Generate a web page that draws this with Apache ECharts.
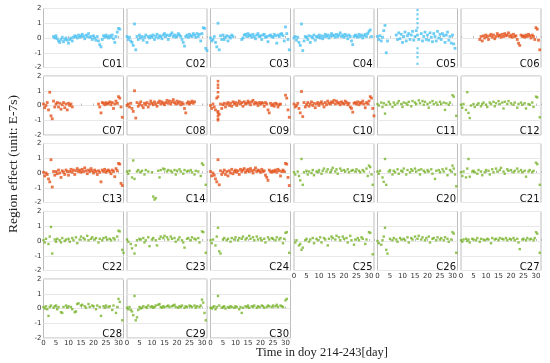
<!DOCTYPE html>
<html><head><meta charset="utf-8">
<script src="https://cdn.jsdelivr.net/npm/echarts@6/dist/echarts.min.js"></script>
<style>html,body{margin:0;padding:0;background:#fff}#c{width:550px;height:363px}</style>
</head><body><div id="c"></div>
<script>
const _ = null;
const days = [0,0.5,1,1.5,2,2.5,3,3.5,4,4.5,5,5.5,6,6.5,7,7.5,8,8.5,9,9.5,10,10.5,11,11.5,12,12.5,13,13.5,14,14.5,15,15.5,16,16.5,17,17.5,18,18.5,19,19.5,20,20.5,21,21.5,22,22.5,23,23.5,24,24.5,25,25.5,26,26.5,27,27.5,28,28.5,29,29.5,30,30.5,31,31.5,32];
const xTicks = [0,5,10,15,20,25,30];
const yTicks = [-2,-1,0,1,2];
const panelNames = ['C01','C02','C03','C04','C05','C06','C07','C08','C09','C10','C11','C12','C13','C14','C16','C19','C20','C21','C22','C23','C24','C25','C26','C27','C28','C29','C30'];
const panelGroup = ['b','b','b','b','b','o','o','o','o','o','g','g','o','g','o','g','g','g','g','g','g','g','g','g','g','g','g'];

const C01 = [_,_,_,_,_,_,_,_,.1,0,
.15,-.05,-.2,-.3,-.1,.05,-.25,-.1,0,-.15,
-.35,-.1,0,-.2,.05,.15,.1,0,.2,.05,
.15,.25,.1,-.05,.2,.1,.3,.05,.1,-.1,
.15,0,-.15,.1,-.2,-.45,-.6,-.1,.15,.05,
.2,.1,0,.15,.05,.2,-.05,-.3,.1,.4,
.65,.6,_,_,_];
const C02 = [.1,-.1,.05,-.2,-.3,-.5,.95,-.8,.1,-.1,
.2,0,.1,-.15,.05,.2,-.3,.1,0,.15,
.05,.2,-.1,.1,.25,0,.15,.1,-.05,.2,
.3,.1,.2,-.1,.15,.25,.35,.1,.2,.05,
.15,.3,.2,.1,-.1,-.3,-.55,.1,.2,.05,
.25,.15,.1,.3,.2,.05,.3,.1,.25,-.2,
.3,.7,.65,-.7,-.85];
const C03 = [0,-.2,-.1,.1,-.3,-.6,1.0,-.8,.15,-.1,
.2,-.1,.05,.15,-.2,.1,0,.2,.1,_,
_,_,_,_,_,-.1,0,.2,.25,.1,
.3,.15,.2,.05,.25,.1,-.05,.2,.3,.1,
.15,-.1,.2,.25,.05,.1,-.25,.15,.2,.1,
.05,.25,.15,-.35,.2,.1,.25,.3,.15,-.2,
.75,.3,-.1,-.8,_];
const C04 = [0,.1,-.15,.05,-.3,-.5,.95,-.85,-.2,.1,
.05,-.1,.15,-.3,.1,0,.2,-.15,.1,.05,
.2,0,.15,-.05,.1,.25,.1,.2,0,.15,
.3,.15,.2,.05,.25,.1,.2,.35,.1,.2,
.05,.25,.15,-.05,.2,.1,-.2,-.45,.1,.2,
.15,.05,.25,.1,.2,0,.15,.25,.1,.3,
.45,.55,.1,_,_];
const C05 = [.1,-.1,.15,-.2,.05,.5,.85,-1.0,-.2,_,
_,_,_,_,_,.2,-.1,.35,-.05,.25,
-.3,.1,.4,-.2,.15,.3,-.1,.2,.45,-.15,
.1,.5,.2,-.1,_,.3,-.2,.1,.4,-.1,
.2,-.15,.35,.05,-.25,.3,.1,-.2,.45,0,
.25,-.1,.3,.15,-.3,.2,.4,-.15,.1,-.35,
.2,-.4,-.7,_,_];
const C06 = [_,_,_,_,_,_,_,_,_,_,
_,_,_,_,_,-.1,.1,-.2,.15,0,
.2,.1,-.1,.15,.25,.05,.2,-.05,.1,.3,
.15,.2,.05,.25,.1,.3,.15,.2,.35,.1,
.2,.05,.25,.1,.15,-.1,-.35,-.5,.2,.1,
.15,.05,.2,.1,.25,.15,0,.2,.1,-.1,
.7,.6,-.15,-.8,_];
const C07 = [.1,-.15,0,.2,-.3,.9,-.7,-.9,.3,-.1,
.1,.2,-.1,.15,-.25,.05,.2,-.15,.1,-.3,
.15,0,.1,-.1,_,_,_,_,_,_,
_,_,_,_,_,_,_,_,_,_,
_,_,_,_,.1,-.1,-.5,.2,.15,.05,
.2,.1,.15,.25,.05,.2,-.2,.1,.3,.15,
.6,.5,-.1,-.8,_];
const C08 = [0,.1,-.1,.15,-.2,-.4,1.0,-.85,.2,-.05,
.1,.25,0,-.15,.15,.05,.2,-.1,.1,.3,
.15,.05,.25,.1,-.05,.2,.3,.1,.25,.15,
.05,.2,.35,.15,.3,.1,.25,.4,.2,.1,
.3,.15,.25,.05,.2,.1,-.2,-.5,.15,.25,
.1,.2,.3,.15,.25,_,_,_,_,_,
_,_,_,_,_];
const C09 = [0,-.2,.1,-.1,-.3,.5,-.4,-.6,.1,-.2,
.05,.15,-.1,.1,.2,0,.15,-.05,.25,.1,
.2,0,.15,.3,.1,.2,-.05,.25,.1,.15,
.3,.2,.05,.25,.35,.1,.2,.15,0,.2,
.1,.2,.15,-.05,.2,.1,-.3,-.5,.15,0,
.1,-.05,.15,.1,-.1,.05,.1,_,_,_,
.7,.5,-.3,-.8,_];
const C10 = [.1,-.1,0,.15,-.2,-.5,.95,-.75,.2,-.1,
.05,.2,-.05,.1,.25,0,.15,-.15,.1,.2,
0,.15,.25,.1,-.1,.2,.05,.3,.15,.1,
.25,.2,.35,.1,.3,.15,.2,.05,.25,.15,
.1,.3,.2,.05,.15,-.1,-.2,-.45,.15,.2,
.1,.25,.05,.2,.15,.3,.1,-.15,.2,.1,
.3,.6,.5,-.2,-.7];
const C11 = [.1,0,_,.2,-.1,.15,-.55,.05,_,.25,
.1,_,-.1,.2,.05,_,.15,.3,_,.1,
-.1,.2,_,.15,.05,.25,_,-.05,.3,_,
.2,.1,_,.35,.15,_,.3,.05,.25,_,
.1,-.15,.2,_,.3,.1,_,.2,.05,_,
.25,.1,_,.2,-.3,.15,_,.05,.2,_,
.7,.6,_,-.7,_];
const C12 = [.05,-.15,.1,_,-.3,.9,-.5,-.85,0,_,
.1,-.1,_,.05,.15,_,-.05,.1,.2,_,
.05,-.1,_,.2,.1,_,.25,-.05,.15,_,
.3,.1,_,.2,-.2,.25,_,.1,.3,_,
.15,_,.05,.2,_,-.15,.1,_,.2,.05,
_,.15,-.2,_,.1,.05,_,.2,-.1,_,
.6,.55,_,-.8,_];
const C13 = [.05,-.2,0,-.1,-.4,-.6,.9,-.95,.1,-.15,
.1,-.05,.2,0,-.3,.15,.05,-.1,.2,.1,
-.15,.1,.25,.05,.2,-.1,.15,.3,.1,.2,
.05,.25,.1,.35,.15,-.05,.2,.1,.3,.15,
0,.2,.1,-.1,.15,.05,-.6,.2,.1,.25,
.05,.15,.2,.1,-.05,.2,.1,-.25,.3,.15,
.65,.6,-.7,-.85,_];
const C14 = [.1,-.05,.15,_,-.3,.85,-.4,_,.1,.2,
_,.05,.15,_,-.1,.2,_,.1,_,_,
.05,-1.6,-1.8,-1.7,_,.15,-.3,.2,_,.3,
.25,_,.1,.2,_,.15,.05,_,.2,-.1,
.15,_,.25,.1,_,-.05,.2,_,.1,.15,
_,.2,.05,_,-.1,.15,_,.1,_,-.2,
.65,.55,_,-.8,_];
const C16 = [.1,-.2,0,-.15,-.4,-.6,.9,-.8,.15,-.1,
.05,.2,-.1,.1,-.2,.15,0,.25,-.05,.1,
.2,.05,.15,-.1,.25,.1,.2,.3,.05,.15,
.25,.1,.3,.15,0,.2,.35,.1,.2,.15,
.05,.25,.1,.15,-.15,-.3,-.5,.2,.1,.05,
.15,.1,.2,.05,.25,.15,-.2,.1,.2,.1,
.65,.6,-.3,-.85,_];
const C19 = [.05,-.1,_,.1,-.2,-.5,.95,-.8,.05,_,
.15,-.1,.1,_,0,.2,-.15,_,.1,.05,
.2,_,-.05,.15,.3,_,.1,.25,_,.05,
.2,.35,_,.1,.25,-.05,_,.3,.15,_,
.2,.1,_,.25,.05,_,.15,.2,_,.1,
.25,_,.15,.05,_,.2,.1,_,.3,-.2,
.5,.4,-.1,-.8,_];
const C20 = [.1,-.05,.15,_,-.3,-.6,.95,-.8,_,.1,
.2,_,-.1,.15,.05,_,.25,-.05,_,.15,
.1,.3,_,-.1,.2,_,.05,.25,.15,_,
.3,.1,_,.2,-.1,.25,_,.15,.05,_,
.2,.1,_,.25,-.05,_,-.4,.15,_,.2,
.05,_,.25,.1,_,.3,-.15,_,.2,.1,
.5,.3,-.1,-.9,_];
const C21 = [.05,-.2,.1,_,-.3,.3,.95,-.25,_,.1,
.15,.05,_,-.05,.2,_,.1,-.15,_,.05,
.2,_,.15,-.1,_,.25,.05,_,.3,.1,
_,.2,.35,_,.1,-.05,_,.25,.15,_,
.2,_,.05,.15,_,.3,.1,_,.2,.05,
_,.15,-.25,_,.1,.2,_,.05,.15,_,
.7,.6,_,-.8,_];
const C22 = [.05,-.1,.15,_,-.2,.3,.95,-.85,_,.1,
-.05,.15,_,.05,-.1,.2,_,0,.1,_,
.15,-.05,_,.2,.05,_,.25,-.15,_,.1,
.3,_,.2,.1,_,.35,.05,_,.15,.25,
_,.1,.2,_,-.1,.15,_,.05,.2,_,
.25,.1,_,.15,.05,_,.2,.1,_,.3,
.7,.65,_,-.6,-.8];
const C23 = [.1,-.05,_,-.2,-.5,_,-.85,-.3,.05,_,
.15,.1,_,.2,-.1,.05,_,.25,-.35,_,
.1,.2,_,.05,-.3,_,.15,.3,_,.2,
.35,_,.25,.1,_,.3,.15,_,.2,-.05,
_,.1,.25,_,.05,-.1,-.45,_,.15,.2,
_,.05,.25,_,.15,.1,_,.2,-.1,_,
.65,.6,_,-.8,_];
const C24 = [.05,-.15,.1,_,-.3,.3,.9,-.7,-.85,_,
.1,.2,_,.05,.15,_,-.05,.2,_,.1,
.25,_,.05,.2,_,.15,.3,_,.1,.2,
_,.35,.15,_,.25,.05,_,.3,.1,_,
.2,.05,_,.15,-.1,_,.25,.1,_,.2,
.15,_,.05,.25,_,.1,.2,_,-.15,.15,
.55,.6,_,-.8,_];
const C25 = [_,-.1,.05,_,-.3,-.2,-.6,-.45,_,.05,
.15,_,-.05,.1,_,.2,-.15,_,.15,.05,
_,.25,-.1,_,.2,.1,_,-.3,.15,_,
.3,.2,_,.1,.35,_,.25,.05,_,.3,
.15,_,.2,-.1,_,.35,.05,_,-.25,.1,
_,.2,.05,_,.25,.15,_,-.2,.1,_,
.6,.55,_,-.9,_];
const C26 = [0,-.15,_,-.25,.05,.3,.9,-.6,-.85,_,
.15,_,.05,.2,_,.1,-.05,_,.2,.1,
_,.15,.05,_,.25,-.1,_,.2,.1,_,
.3,_,.15,.35,_,.1,.25,_,.05,.2,
_,.3,-.1,_,.15,.2,_,.05,.25,_,
.1,.2,_,.05,.25,_,.15,-.05,_,.1,
.6,.5,_,-.8,_];
const C27 = [.05,-.05,.1,_,.15,0,.1,-.1,_,.15,
.1,_,.05,.2,_,-.05,.15,_,.1,.05,
_,.15,.1,_,-.15,.2,_,.1,.15,_,
.05,.2,_,.15,.1,_,.2,.05,_,.15,
.1,_,.2,.05,_,.15,-.1,-.55,_,.1,
.15,_,.05,.2,_,.1,.15,_,.05,.2,
.6,.5,_,-.8,_];
const C28 = [.1,0,.15,-.05,-.5,.1,.2,_,.05,.15,
.2,-.05,.1,_,-.25,-.3,.1,_,.2,.05,
.15,_,.1,-.05,_,-.25,-.2,.3,.35,_,
.2,.25,_,.15,.05,_,.3,.1,_,.2,
.15,_,-.05,.2,_,.1,-.5,_,.15,.05,
.2,_,.1,.15,_,-.1,.2,_,-.3,.1,
.65,.45,_,-.8,_];
const C29 = [.05,-.05,.1,-.1,-.2,-.45,.85,-.8,-.6,-.1,
.1,0,.05,.15,_,.1,.05,.2,_,.1,
.15,.05,.1,.2,_,.25,.3,.1,.05,.15,
.1,_,.15,.2,.1,_,.15,.2,.25,.1,
_,.05,.15,.1,.2,_,.05,.15,.1,_,
.2,.15,.1,_,.2,.05,.15,_,.1,.2,
.6,.4,-.3,-.8,_];
const C30 = [.05,0,.1,.15,-.05,.1,.85,.2,_,.05,
.1,.15,0,_,.1,.05,.15,.1,_,.05,
.15,.1,_,-.05,.1,-.3,.05,_,.15,.1,
.2,.05,_,.15,.1,.2,_,.05,.15,.1,
_,.2,.15,.05,_,.1,.2,.15,_,.1,
.2,_,.15,.25,.1,_,.2,.15,.1,_,
.55,.65,_,_,_];
const panelValues = [C01,C02,C03,C04,C05,C06,C07,C08,C09,C10,C11,C12,C13,C14,C16,C19,C20,C21,C22,C23,C24,C25,C26,C27,C28,C29,C30];

// vertical bursts of points
const C05BurstDay = [16];
const C05Burst = [1.9,1.6,1.3,1.0,0.7,-0.7,-1.0,-1.3,-1.75];
const C09BurstDay = [3];
const C09Burst = [1.65,1.4,1.2,0.9,0.6,-0.5,-0.7,-0.9,-1.0];

const colors = {b:'#4cc2f2', o:'#e4521c', g:'#78b42c'};
const colLeft = [43.5,127,210.5,294,377.5,461];
const rowTop = [8.5,76,143.5,211.5,279];
const W = 80, H = 59;

const grids=[], xAxes=[], yAxes=[], series=[], graphics=[];
panelNames.forEach((name,k)=>{
  const r = Math.floor(k/6), c = k%6;
  grids.push({left:colLeft[c], top:rowTop[r], width:W, height:H, show:true,
    borderColor:'#bdbdbd', borderWidth:1, backgroundColor:'#fff'});
  const showX = (r===4) || (r===3 && c>=3);
  xAxes.push({gridIndex:k, type:'value', min:0, max:32, interval:5,
    axisLine:{show:false},
    axisTick:{show:true, inside:true, length:2, lineStyle:{color:'#bbb'}},
    splitLine:{show:false},
    axisLabel:{show:showX, fontSize:7, color:'#333', margin:2, fontFamily:'DejaVu Sans',
      formatter:v=>xTicks.includes(v)?String(v):''}});
  yAxes.push({gridIndex:k, type:'value', min:-2, max:2, interval:1,
    axisLine:{show:false}, axisTick:{show:false},
    splitLine:{show:true, lineStyle:{color:'#e8e8e8', width:1}},
    axisLabel:{show:c===0, fontSize:7, color:'#333', margin:2, fontFamily:'DejaVu Sans',
      formatter:v=>yTicks.includes(v)?String(v):''}});
  const vals = panelValues[k];
  const g = panelGroup[k];
  const data = [];
  vals.forEach((v,i)=>{ if(v!==null && days[i]!==undefined) data.push([days[i], v]); });
  series.push({type:'scatter', xAxisIndex:k, yAxisIndex:k, data,
    symbol:'rect', symbolSize: g==='g'?2.4:2.8, silent:true, animation:false,
    itemStyle:{color:colors[g]}});
  if(name==='C05'){
    series.push({type:'scatter', xAxisIndex:k, yAxisIndex:k, symbol:'rect', symbolSize:2.2, animation:false,
      data:C05Burst.map(v=>[C05BurstDay[0], v]), itemStyle:{color:colors[g]}});
  }
  if(name==='C09'){
    series.push({type:'scatter', xAxisIndex:k, yAxisIndex:k, symbol:'rect', symbolSize:2.6, animation:false,
      data:C09Burst.map(v=>[C09BurstDay[0], v]), itemStyle:{color:colors[g]}});
  }
  graphics.push({type:'text', z:100, x:colLeft[c]+W-1.5, y:rowTop[r]+H+1.5,
    style:{text:name, fill:'#111', font:'10px "DejaVu Sans"', textAlign:'right', textVerticalAlign:'bottom'}});
});
graphics.push({type:'text', x:322, y:353,
  style:{text:'Time in doy 214-243[day]', fill:'#222', font:'12.5px "Liberation Serif"', textAlign:'center', textVerticalAlign:'middle'}});
graphics.push({type:'text', x:13, y:164, rotation:Math.PI/2,
  style:{text:'Region effect (unit: E-7s)', fill:'#222', font:'13.5px "Liberation Serif"', textAlign:'center', textVerticalAlign:'middle'}});

const chart = echarts.init(document.getElementById('c'), null, {renderer:'canvas'});
chart.setOption({animation:false, grid:grids, xAxis:xAxes, yAxis:yAxes, series, graphic:graphics});
</script></body></html>
